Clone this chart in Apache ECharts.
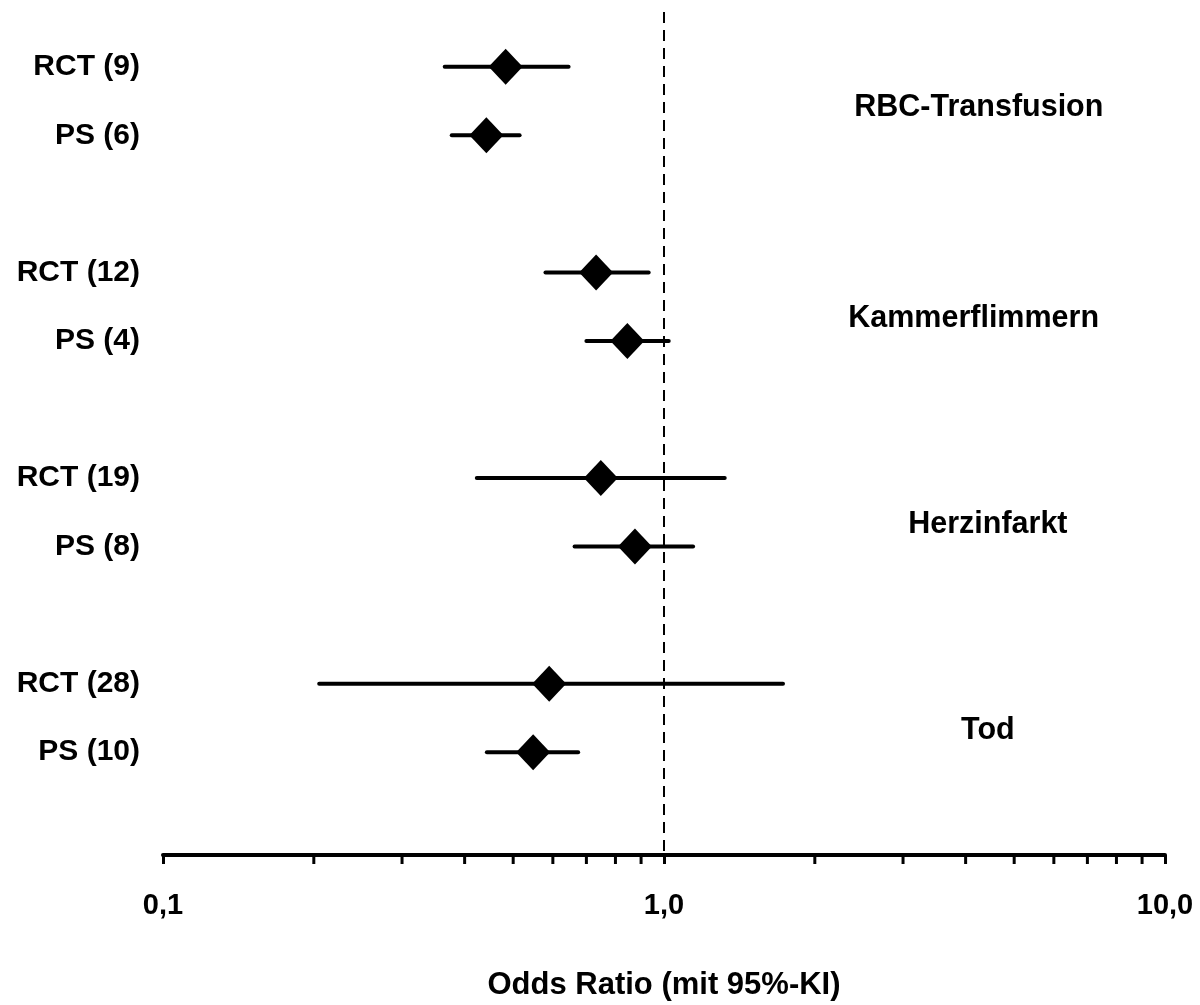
<!DOCTYPE html>
<html>
<head>
<meta charset="utf-8">
<script src="https://cdn.jsdelivr.net/npm/echarts@6/dist/echarts.min.js"></script>
<style>
  html, body { margin: 0; padding: 0; background: #fff; }
  #chart { width: 1200px; height: 1005px; }
</style>
</head>
<body>
<div id="chart"></div>
<script>
// ---- data ----
const rowLabels = ['RCT (9)', 'PS (6)', 'RCT (12)', 'PS (4)', 'RCT (19)', 'PS (8)', 'RCT (28)', 'PS (10)'];
const rowSlots = [0, 1, 3, 4, 6, 7, 9, 10];
const oddsRatio = [0.483, 0.442, 0.732, 0.845, 0.748, 0.875, 0.590, 0.548];
const ciLower   = [0.365, 0.377, 0.580, 0.700, 0.423, 0.663, 0.205, 0.443];
const ciUpper   = [0.645, 0.515, 0.932, 1.022, 1.322, 1.143, 1.728, 0.674];

const groupNames = ['RBC-Transfusion', 'Kammerflimmern', 'Herzinfarkt', 'Tod'];
const groupSlots = [0.6, 3.675, 6.68, 9.685];
const groupLabelX = [4.25, 4.15, 4.43, 4.43];

const xTickValues = [0.1, 1, 10];
const xTickLabels = ['0,1', '1,0', '10,0'];
const minorTickValues = [0.2, 0.3, 0.4, 0.5, 0.6, 0.7, 0.8, 0.9, 2, 3, 4, 5, 6, 7, 8, 9];
const referenceLine = 1;
const axisName = 'Odds Ratio (mit 95%-KI)';

// ---- chart ----
const FONT = '"Liberation Sans", Arial, Helvetica, sans-serif';
const Y_MIN = -0.8, Y_MAX = 11.5;

const chart = echarts.init(document.getElementById('chart'), null, { renderer: 'canvas' });

const pointData = oddsRatio.map((v, i) => [v, rowSlots[i]]);
const ciData = ciLower.map((lo, i) => [lo, ciUpper[i], rowSlots[i]]);
const groupData = groupNames.map((n, i) => ({ value: [groupLabelX[i], groupSlots[i]], name: n }));
const minorData = minorTickValues.map(v => [v, Y_MAX]);

function xLabel(v) {
  for (let i = 0; i < xTickValues.length; i++) {
    if (Math.abs(Math.log10(v) - Math.log10(xTickValues[i])) < 1e-6) return xTickLabels[i];
  }
  return '';
}
function yLabel(v) {
  const idx = rowSlots.indexOf(Math.round(v));
  return idx >= 0 && Math.abs(v - rowSlots[idx]) < 1e-6 ? rowLabels[idx] : '';
}

chart.setOption({
  animation: false,
  backgroundColor: '#ffffff',
  grid: { left: 163, right: 35, top: 12, bottom: 150, containLabel: false, outerBoundsMode: 'none' },
  xAxis: {
    type: 'log',
    logBase: 10,
    min: 0.1,
    max: 10,
    position: 'bottom',
    name: axisName,
    nameLocation: 'middle',
    nameGap: 115,
    nameTextStyle: { fontFamily: FONT, fontSize: 31, fontWeight: 'bold', color: '#000' },
    axisLine: { show: true, onZero: false, lineStyle: { color: '#000', width: 4, cap: 'round' } },
    axisTick: { show: true, length: 9, lineStyle: { color: '#000', width: 3 } },
    axisLabel: {
      show: true, margin: 36, showMinLabel: true, showMaxLabel: true,
      fontFamily: FONT, fontSize: 29, fontWeight: 'bold', color: '#000',
      formatter: xLabel
    },
    splitLine: { show: false },
    minorTick: { show: false }
  },
  yAxis: {
    type: 'value',
    inverse: true,
    min: Y_MIN,
    max: Y_MAX,
    axisLine: { show: false },
    axisTick: { show: false },
    splitLine: { show: false },
    axisLabel: {
      show: true,
      customValues: rowSlots,
      margin: 23,
      padding: [5, 0, 0, 0],
      fontFamily: FONT, fontSize: 30, fontWeight: 'bold', color: '#000',
      formatter: yLabel
    }
  },
  series: [
    {
      type: 'custom',
      name: 'KI',
      data: ciData,
      encode: { x: [0, 1], y: 2 },
      clip: false,
      renderItem: function (params, api) {
        const y = api.value(2);
        const p1 = api.coord([api.value(0), y]);
        const p2 = api.coord([api.value(1), y]);
        return {
          type: 'line',
          shape: { x1: p1[0], y1: p1[1], x2: p2[0], y2: p2[1] },
          style: { stroke: '#000', lineWidth: 4, lineCap: 'round' }
        };
      },
      z: 2
    },
    {
      type: 'scatter',
      name: 'OR',
      data: pointData,
      symbol: 'diamond',
      symbolSize: [34, 36],
      itemStyle: { color: '#000', opacity: 1 },
      z: 3,
      markLine: {
        silent: true,
        symbol: 'none',
        label: { show: false },
        lineStyle: { color: '#000', width: 2, type: [11, 7], opacity: 1 },
        data: [{ xAxis: referenceLine }],
        z: 1
      }
    },
    {
      type: 'scatter',
      name: 'minorTicks',
      data: minorData,
      symbol: 'rect',
      symbolSize: [3, 9],
      symbolOffset: [0, 4.5],
      itemStyle: { color: '#000', opacity: 1 },
      clip: false,
      silent: true,
      z: 4
    },
    {
      type: 'scatter',
      name: 'groups',
      data: groupData,
      symbolSize: 0,
      silent: true,
      itemStyle: { color: '#000', opacity: 1 },
      label: {
        show: true,
        position: 'inside',
        formatter: p => p.name,
        fontFamily: FONT, fontSize: 30.5, fontWeight: 'bold', color: '#000', opacity: 1,
        align: 'center', verticalAlign: 'middle'
      }
    }
  ]
});
</script>
</body>
</html>
